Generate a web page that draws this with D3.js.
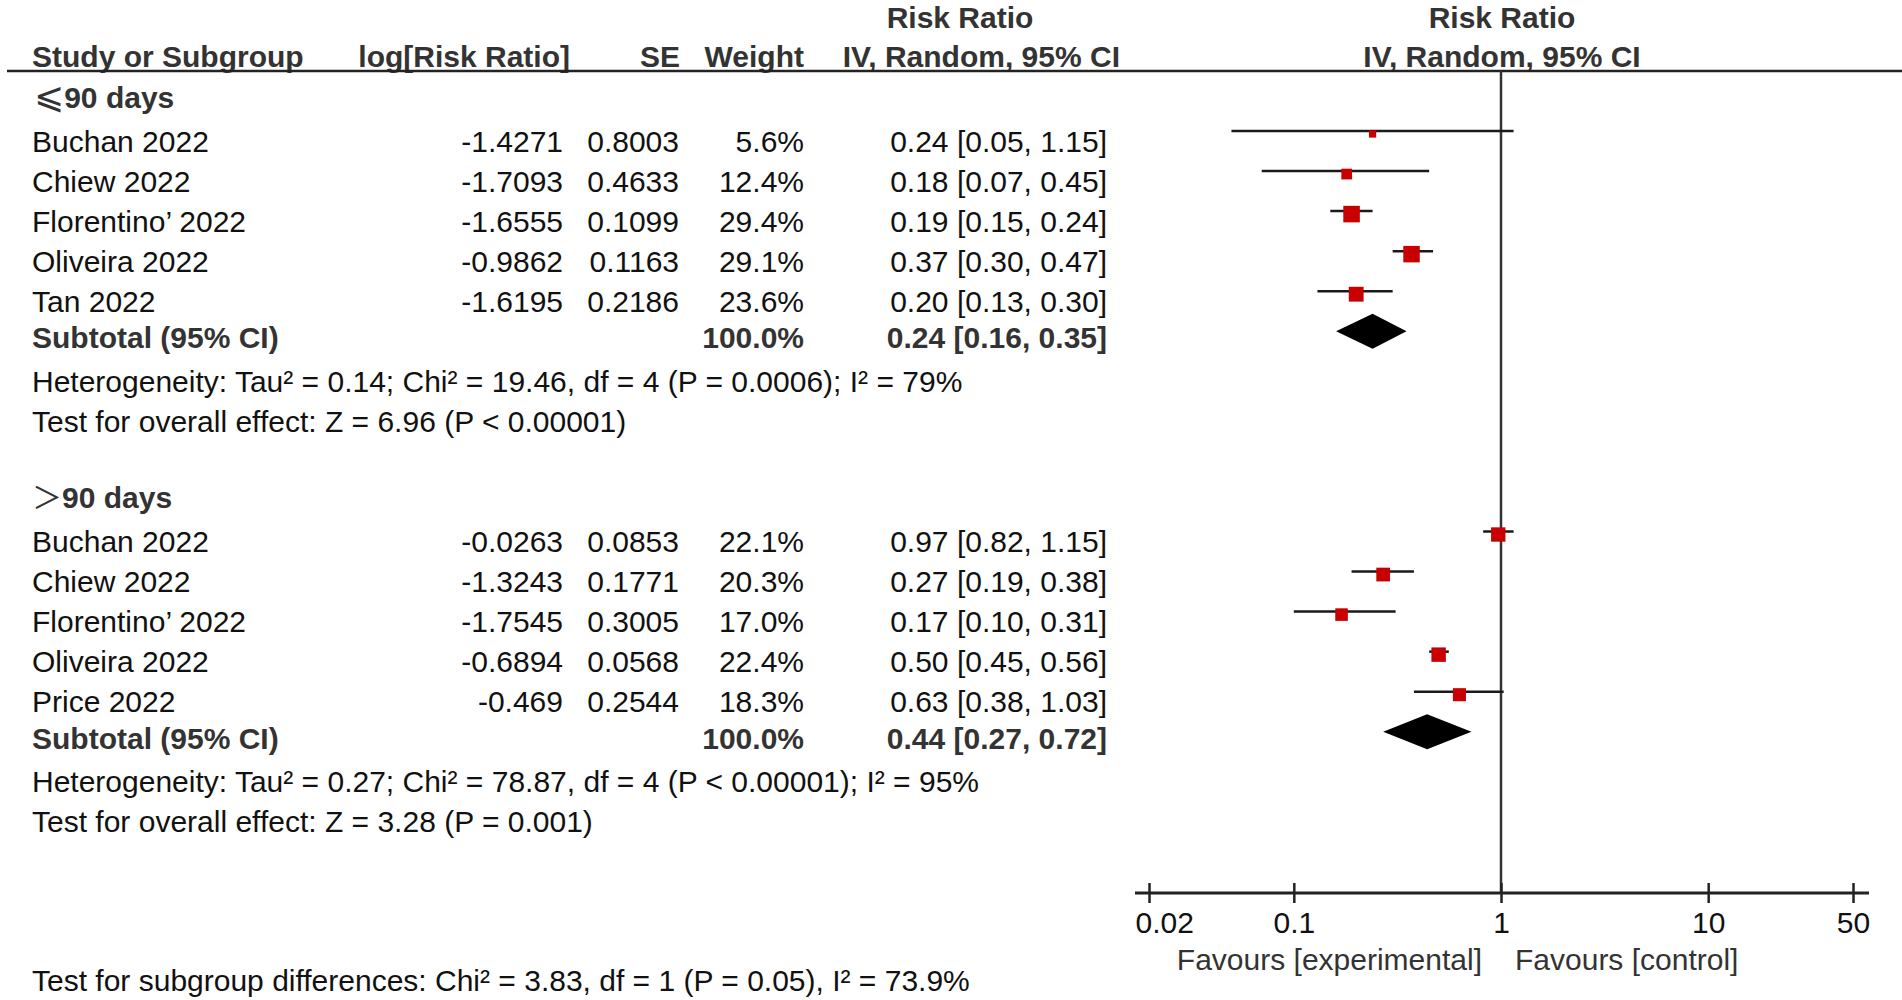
<!DOCTYPE html>
<html>
<head>
<meta charset="utf-8">
<script src="https://cdn.jsdelivr.net/npm/d3@7"></script>
<style>
  body { margin: 0; background: #fff; }
  svg { display: block; font-family: "Liberation Sans", Arial, sans-serif; }
</style>
</head>
<body>
<svg id="chart"></svg>
<script>
// one entry per subgroup: [<=90 days, >90 days]
const groupSigns = ["⩽", "＞"];
const groupLabels = ["90 days", "90 days"];
const studyNames = [
  ["Buchan 2022", "Chiew 2022", "Florentino’ 2022", "Oliveira 2022", "Tan 2022"],
  ["Buchan 2022", "Chiew 2022", "Florentino’ 2022", "Oliveira 2022", "Price 2022"],
];
const logRR = [
  [-1.4271, -1.7093, -1.6555, -0.9862, -1.6195],
  [-0.0263, -1.3243, -1.7545, -0.6894, -0.469],
];
const stdErr = [
  [0.8003, 0.4633, 0.1099, 0.1163, 0.2186],
  [0.0853, 0.1771, 0.3005, 0.0568, 0.2544],
];
const weights = [
  [5.6, 12.4, 29.4, 29.1, 23.6],
  [22.1, 20.3, 17.0, 22.4, 18.3],
];
const riskRatio = [
  [0.24, 0.18, 0.19, 0.37, 0.2],
  [0.97, 0.27, 0.17, 0.5, 0.63],
];
const ciLow = [
  [0.05, 0.07, 0.15, 0.3, 0.13],
  [0.82, 0.19, 0.1, 0.45, 0.38],
];
const ciHigh = [
  [1.15, 0.45, 0.24, 0.47, 0.3],
  [1.15, 0.38, 0.31, 0.56, 1.03],
];
const subtotalRR = [0.24, 0.44];
const subtotalLow = [0.16, 0.27];
const subtotalHigh = [0.35, 0.72];
const heterogeneity = [
  "Heterogeneity: Tau² = 0.14; Chi² = 19.46, df = 4 (P = 0.0006); I² = 79%",
  "Heterogeneity: Tau² = 0.27; Chi² = 78.87, df = 4 (P < 0.00001); I² = 95%",
];
const overallEffect = [
  "Test for overall effect: Z = 6.96 (P < 0.00001)",
  "Test for overall effect: Z = 3.28 (P = 0.001)",
];
const subgroupTest = "Test for subgroup differences: Chi² = 3.83, df = 1 (P = 0.05), I² = 73.9%";
const axisTicks = [0.02, 0.1, 1, 10, 50];
const favourLabels = ["Favours [experimental]", "Favours [control]"];

class ForestPlot {
  constructor(svg, width = 1902, height = 1000) {
    this.svg = svg;
    this.width = width;
    this.height = height;
    this.axisY = 893;
    this.headerY = 71;
  }

  initialize() {
    this.svg = d3.select(this.svg)
      .attr("width", this.width)
      .attr("height", this.height);

    this.header = this.svg.append("g");
    this.table = this.svg.append("g");
    this.plot = this.svg.append("g");
    this.xAxis = this.svg.append("g");

    this.xScale = d3.scaleLog().domain([0.02, 50]).range([1149, 1853]);
    // rows are 40px apart; second subgroup starts 10 rows down
    this.yScale = d3.scaleLinear().domain([0, 1]).range([131, 171.05]);
  }

  text(g, x, y, str, anchor = "start", bold = false) {
    return g.append("text")
      .attr("x", x)
      .attr("y", y)
      .attr("text-anchor", anchor)
      .attr("font-size", 30)
      .attr("font-weight", bold ? "bold" : "normal")
      .attr("fill", bold ? "#333" : "#111")
      .text(str);
  }

  update() {
    const x = this.xScale;
    const y = this.yScale;
    const pct = d3.format(".1f");
    const rr = d3.format(".2f");
    const ciText = (m, lo, hi) => `${rr(m)} [${rr(lo)}, ${rr(hi)}]`;

    // column headers
    this.text(this.header, 960, 28, "Risk Ratio", "middle", true);
    this.text(this.header, x(1) + 1, 28, "Risk Ratio", "middle", true);
    this.text(this.header, 32, 67, "Study or Subgroup", "start", true);
    this.text(this.header, 570, 67, "log[Risk Ratio]", "end", true);
    this.text(this.header, 680, 67, "SE", "end", true);
    this.text(this.header, 804, 67, "Weight", "end", true);
    this.text(this.header, 1120, 67, "IV, Random, 95% CI", "end", true);
    this.text(this.header, x(1) + 1, 67, "IV, Random, 95% CI", "middle", true);

    this.header.append("line")
      .attr("x1", 7).attr("x2", this.width)
      .attr("y1", this.headerY).attr("y2", this.headerY)
      .attr("stroke", "#222").attr("stroke-width", 2.5);

    this.plot.append("line")
      .attr("x1", x(1)).attr("x2", x(1))
      .attr("y1", this.headerY).attr("y2", this.axisY)
      .attr("stroke", "#333").attr("stroke-width", 2.5);

    const rows = [];
    studyNames.forEach((names, g) => {
      names.forEach((name, i) => {
        rows.push({
          name,
          row: g * 10 + i,
          logRR: logRR[g][i],
          se: stdErr[g][i],
          weight: weights[g][i],
          rr: riskRatio[g][i],
          lo: ciLow[g][i],
          hi: ciHigh[g][i],
        });
      });

      const base = g * 10;
      const head = this.text(this.table, 32, y(base - 1) + 17, "", "start", true);
      head.append("tspan")
        .attr("font-family", "'DejaVu Sans', 'Noto Sans CJK SC', sans-serif")
        .attr("font-weight", "normal")
        .attr("font-size", g === 0 ? 36 : 30)
        .attr("dx", g === 0 ? 2 : 0)
        .text(groupSigns[g]);
      head.append("tspan").text(groupLabels[g]);

      this.text(this.table, 32, y(base + 5) + 17, "Subtotal (95% CI)", "start", true);
      this.text(this.table, 804, y(base + 5) + 17, "100.0%", "end", true);
      this.text(this.table, 1107, y(base + 5) + 17,
        ciText(subtotalRR[g], subtotalLow[g], subtotalHigh[g]), "end", true);
      this.text(this.table, 32, y(base + 6) + 20.5, heterogeneity[g]);
      this.text(this.table, 32, y(base + 7) + 20.5, overallEffect[g]);
    });

    const line = this.table.selectAll("g.study")
      .data(rows)
      .join("g")
      .attr("class", "study");

    line.each((d, i, nodes) => {
      const g = d3.select(nodes[i]);
      const ty = y(d.row) + 20.5;
      this.text(g, 32, ty, d.name);
      this.text(g, 563, ty, String(d.logRR), "end");
      this.text(g, 679, ty, String(d.se), "end");
      this.text(g, 804, ty, pct(d.weight) + "%", "end");
      this.text(g, 1107, ty, ciText(d.rr, d.lo, d.hi), "end");
    });

    this.plot.selectAll("line.ci")
      .data(rows)
      .join("line")
      .attr("class", "ci")
      .attr("x1", (d) => x(d.lo))
      .attr("x2", (d) => x(d.hi))
      .attr("y1", (d) => y(d.row))
      .attr("y2", (d) => y(d.row))
      .attr("stroke", "#1a1a1a")
      .attr("stroke-width", 2.5);

    this.plot.selectAll("rect.box")
      .data(rows)
      .join("rect")
      .attr("class", "box")
      .attr("width", (d) => 3.05 * Math.sqrt(d.weight))
      .attr("height", (d) => 3.05 * Math.sqrt(d.weight))
      .attr("x", (d) => x(d.rr) - 1.525 * Math.sqrt(d.weight))
      .attr("y", (d) => y(d.row) + 3 - 1.525 * Math.sqrt(d.weight))
      .attr("fill", "#c80000");

    this.plot.selectAll("path.diamond")
      .data(subtotalRR)
      .join("path")
      .attr("class", "diamond")
      .attr("d", (d, g) => {
        const cy = y(g * 10 + 5);
        return `M${x(subtotalLow[g])},${cy}L${x(d)},${cy - 17.5}` +
          `L${x(subtotalHigh[g])},${cy}L${x(d)},${cy + 17.5}Z`;
      })
      .attr("fill", "#000");

    // axis
    const axisStart = x.range()[0] - 14;
    this.xAxis.attr("transform", `translate(0,${this.axisY})`)
      .call(d3.axisBottom(x).tickValues(axisTicks).tickFormat((d) => String(d)).tickSize(10));
    this.xAxis.select(".domain").remove();
    this.xAxis.attr("font-size", null).attr("font-family", null);
    this.xAxis.append("line")
      .attr("x1", axisStart).attr("x2", x.range()[1] + 16)
      .attr("stroke", "#222").attr("stroke-width", 3);
    this.xAxis.selectAll(".tick line")
      .attr("y1", -10).attr("y2", 10)
      .attr("stroke", "#222").attr("stroke-width", 2.5);
    this.xAxis.selectAll(".tick text")
      .attr("y", 40).attr("dy", null)
      .attr("font-size", 30).attr("fill", "#111");
    // first label sits flush with the start of the axis line
    this.xAxis.selectAll(".tick text")
      .filter((d) => d === axisTicks[0])
      .attr("text-anchor", "start")
      .attr("x", axisStart - x(axisTicks[0]));

    this.text(this.xAxis, x(1) - 19, 77, favourLabels[0], "end").attr("fill", "#333");
    this.text(this.xAxis, x(1) + 14, 77, favourLabels[1]).attr("fill", "#333");

    this.text(this.svg, 32, 991, subgroupTest);
  }
}

const plot = new ForestPlot(document.getElementById("chart"));
plot.initialize();
plot.update();
</script>
</body>
</html>
